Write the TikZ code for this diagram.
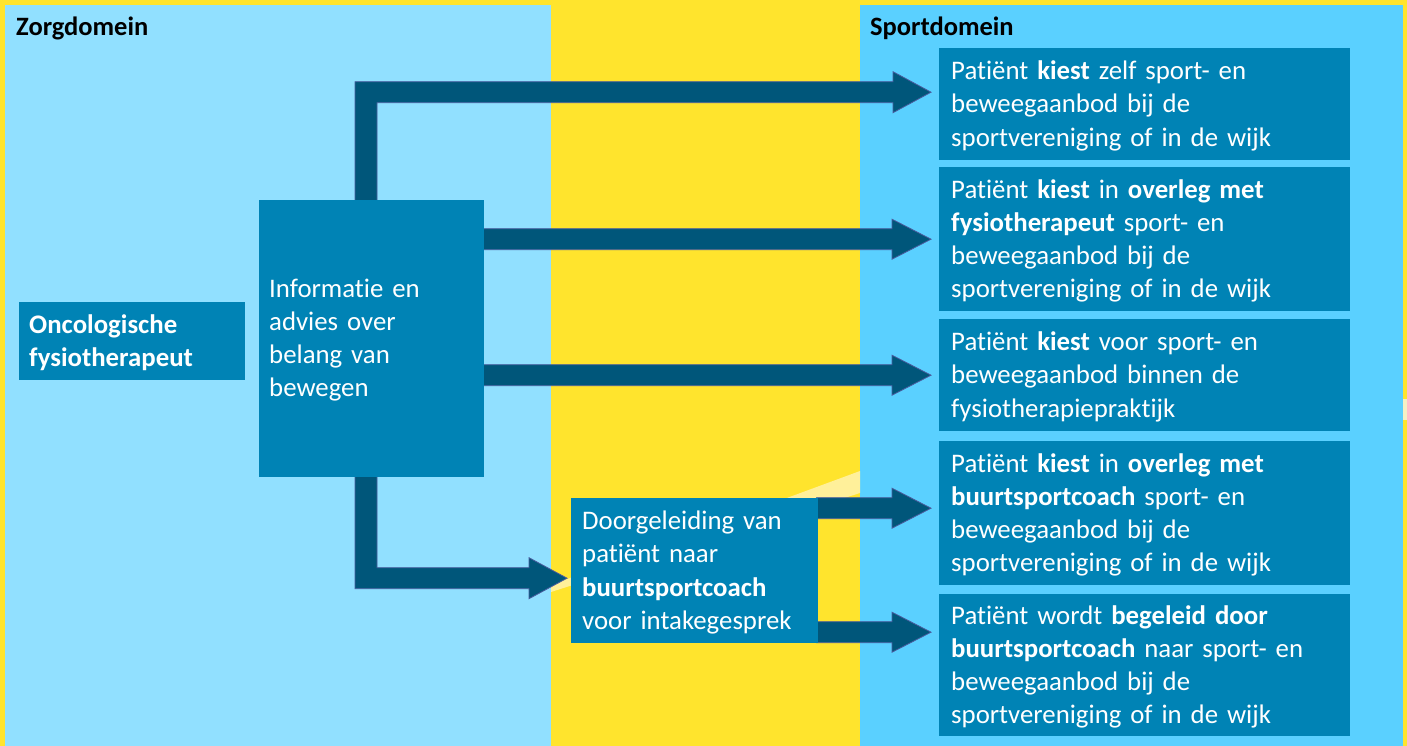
\documentclass[tikz,border=0pt]{standalone}
\usepackage{fontspec}
\setmainfont{Carlito}[Ligatures=NoCommon, WordSpace=0.85]
\usetikzlibrary{calc}
\definecolor{bgyellow}{HTML}{FFE42D}
\definecolor{zorgblue}{HTML}{91E0FF}
\definecolor{sportblue}{HTML}{5AD0FF}
\definecolor{boxblue}{HTML}{0083B5}
\definecolor{arrowblue}{HTML}{00567A}
\definecolor{arrowedge}{HTML}{4A5C9E}
\definecolor{paleyellow}{HTML}{FFF09A}
\definecolor{notch}{HTML}{F5F0C4}
\pgfdeclarelayer{bg}
\pgfdeclarelayer{arrows}
\pgfsetlayers{bg,arrows,main}
\tikzset{
  box/.style={fill=boxblue, text=white, anchor=north west, inner ysep=0pt,
    align=left, font=\fontsize{26.8}{33.2}\selectfont},
  heading/.style={font=\bfseries\fontsize{26.5}{30}\selectfont, text=black,
    anchor=west, inner sep=0pt},
  arr/.style={fill=arrowblue, draw=arrowedge, line width=0.8pt, line join=miter},
}
\newcommand\hArrow[2]{%
  \draw[arr] let \p1=(#1), \p2=(#2) in
    (\x1,\y2+10.5pt) -- (\x2-39pt,\y2+10.5pt) -- (\x2-39pt,\y2+20pt) -- (\x2,\y2)
    -- (\x2-39pt,\y2-20pt) -- (\x2-39pt,\y2-10.5pt) -- (\x1,\y2-10.5pt) -- cycle;}
\begin{document}
\begin{tikzpicture}[x=1pt,y=-1pt]
\useasboundingbox (0,0) rectangle (1407,746);
\begin{pgfonlayer}{bg}
  \fill[bgyellow] (0,0) rectangle (1407,746);
  \fill[zorgblue] (5,5) rectangle (551,746);
  \fill[sportblue] (860,5) rectangle (1403,746);
  \fill[paleyellow] (551,585) -- (860,471) -- (860,493) -- (551,592) -- cycle;
  \fill[notch] (1403,399) rectangle (1407,420);
\end{pgfonlayer}

\node[heading] (zorg) at (16,28) {Zorgdomein};
\node[heading] (sport) at (870,28) {Sportdomein};

\node[box, font=\bfseries\fontsize{26.8}{33.2}\selectfont, inner xsep=10pt, text width=206pt, minimum height=78pt] (onco) at (19,302)
  {\rule{0pt}{22pt}Oncologische\\fysiotherapeut};
\node[box, inner xsep=10pt, text width=205pt, minimum height=277pt] (info) at (259,200)
  {\rule{0pt}{21pt}Informatie en\\advies over\\belang van\\bewegen};
\node[box, inner xsep=11pt, text width=225pt, minimum height=145pt] (doorg) at (571,498)
  {\rule{0pt}{22pt}Doorgeleiding van\\patiënt naar\\\textbf{buurtsportcoach}\\voor intakegesprek};

\node[box, inner xsep=12pt, text width=387pt, minimum height=112pt] (r1) at (939,48)
  {\rule{0pt}{22pt}Patiënt \textbf{kiest} zelf sport- en\\beweegaanbod bij de\\sportvereniging of in de wijk};
\node[box, inner xsep=12pt, text width=387pt, minimum height=144pt] (r2) at (939,167)
  {\rule{0pt}{22pt}Patiënt \textbf{kiest} in \textbf{overleg met}\\\textbf{fysiotherapeut} sport- en\\beweegaanbod bij de\\sportvereniging of in de wijk};
\node[box, inner xsep=12pt, text width=387pt, minimum height=112pt] (r3) at (939,319)
  {\rule{0pt}{22pt}Patiënt \textbf{kiest} voor sport- en\\beweegaanbod binnen de\\fysiotherapiepraktijk};
\node[box, inner xsep=12pt, text width=387pt, minimum height=144pt] (r4) at (939,441)
  {\rule{0pt}{22pt}Patiënt \textbf{kiest} in \textbf{overleg met}\\\textbf{buurtsportcoach} sport- en\\beweegaanbod bij de\\sportvereniging of in de wijk};
\node[box, inner xsep=12pt, text width=387pt, minimum height=142pt] (r5) at (939,594)
  {\rule{0pt}{22pt}Patiënt wordt \textbf{begeleid door}\\\textbf{buurtsportcoach} naar sport- en\\beweegaanbod bij de\\sportvereniging of in de wijk};

\coordinate (t1) at ($(r1.west)+(-8,-12)$);
\coordinate (t2) at ($(r2.west)+(-8,0)$);
\coordinate (t3) at ($(r3.west)+(-8,0)$);
\coordinate (t4) at ($(doorg.west)+(-4,7.5)$);
\coordinate (t5) at ($(r4.west)+(-8,-5)$);
\coordinate (t6) at ($(r5.west)+(-8,-33)$);

\begin{pgfonlayer}{arrows}
  % elbow up to first option
  \draw[arr] let \p1=($(info.north west)+(96,2)$), \p2=(t1) in
    (\x1,\y1) -- (\x1,\y2+10.5pt) -- (\x2-38pt,\y2+10.5pt) -- (\x2-38pt,\y2+20.5pt)
    -- (\x2,\y2) -- (\x2-38pt,\y2-20.5pt) -- (\x2-38pt,\y2-10.5pt)
    -- (\x1+22pt,\y2-10.5pt) -- (\x1+22pt,\y1) -- cycle;
  % elbow down to referral
  \draw[arr] let \p1=($(info.south west)+(96,-2)$), \p2=(t4) in
    (\x1,\y1) -- (\x1,\y2-10.5pt) -- (\x2-38pt,\y2-10.5pt) -- (\x2-38pt,\y2-20.5pt)
    -- (\x2,\y2) -- (\x2-38pt,\y2+20.5pt) -- (\x2-38pt,\y2+10.5pt)
    -- (\x1+22pt,\y2+10.5pt) -- (\x1+22pt,\y1) -- cycle;
  \hArrow{$(info.east |- t2)+(-2,0)$}{t2}
  \hArrow{$(info.east |- t3)+(-2,0)$}{t3}
  \hArrow{$(doorg.east |- t5)+(-2,0)$}{t5}
  \hArrow{$(doorg.east |- t6)+(-2,0)$}{t6}
\end{pgfonlayer}
\end{tikzpicture}
\end{document}
